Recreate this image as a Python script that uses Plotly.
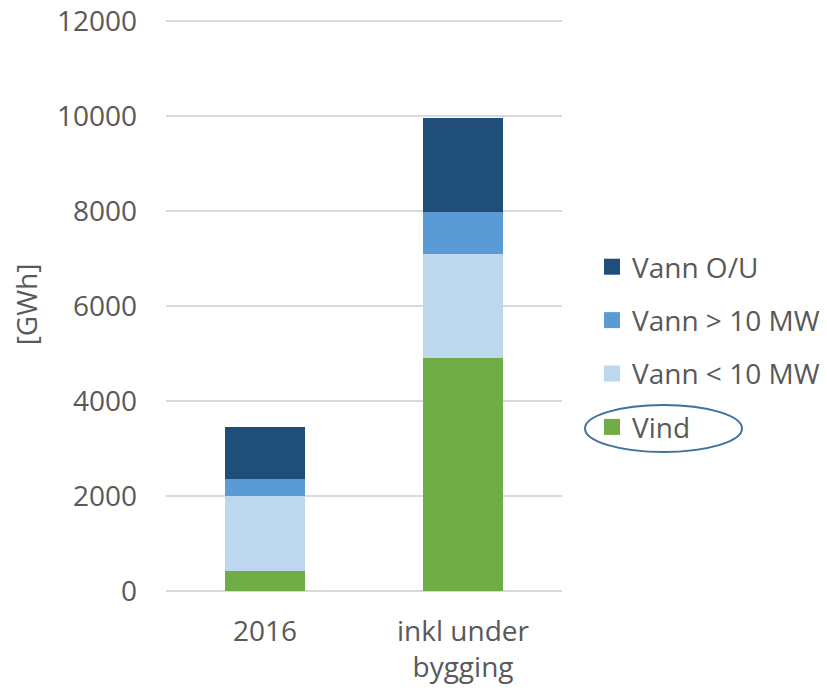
import plotly.graph_objects as go

categories = ["2016", "inkl under<br>bygging"]
series_names = ["Vind", "Vann < 10 MW", "Vann > 10 MW", "Vann O/U"]
vind = [420, 4900]
vann_lt10 = [1580, 2200]
vann_gt10 = [350, 870]
vann_ou = [1095, 1980]
colors = ["#70AD47", "#BDD7EE", "#5B9BD5", "#1F4E79"]
y_ticks = [0, 2000, 4000, 6000, 8000, 10000, 12000]

values = [vind, vann_lt10, vann_gt10, vann_ou]
font_color = "#595959"
FONT = "Open Sans"
FS = 28

fig = go.Figure()
for name, vals, col in zip(series_names, values, colors):
    fig.add_trace(go.Bar(x=categories, y=vals, name=name, marker_color=col,
                         marker_line_width=0, showlegend=False))

# legend entries (larger square swatches), top-to-bottom order
for i, (name, col) in enumerate(reversed(list(zip(series_names, colors)))):
    fig.add_trace(go.Scatter(x=[None], y=[None], mode="markers", name=name,
                             marker=dict(symbol="square", size=17, color=col),
                             legendgroup=name, legendrank=i + 1))

W, H = 827, 690
Y_MAX = 12060
plot_left, plot_right = 166, 562          # window pixels
plot_bottom = 591
ph = round(570 / 12000 * Y_MAX)
plot_top = plot_bottom - ph
L = plot_left
T = plot_top
R = W - plot_right
B = H - plot_bottom
pw = plot_right - plot_left

def px_x(px):
    return (px - plot_left) / pw

def px_y(py):
    return (plot_bottom - py) / ph

fig.add_shape(type="circle", xref="paper", yref="paper",
              x0=px_x(585), x1=px_x(742), y0=px_y(452), y1=px_y(405),
              line=dict(color="#41719C", width=2), layer="above")

fig.update_layout(
    width=W, height=H,
    margin=dict(l=L, r=R, t=T, b=B, autoexpand=False),
    paper_bgcolor="white", plot_bgcolor="white",
    barmode="stack", bargap=0.6,
    font=dict(family=FONT, size=FS, color=font_color),
    legend=dict(x=px_x(592), y=px_y(242), xanchor="left", yanchor="top",
                traceorder="grouped", tracegroupgap=14,
                bgcolor="rgba(0,0,0,0)",
                font=dict(family=FONT, size=FS, color=font_color),
                itemclick=False),
    xaxis=dict(showline=False, ticks="", showgrid=False, automargin=False,
               ticklabelstandoff=21,
               tickfont=dict(family=FONT, size=FS, color=font_color)),
    yaxis=dict(range=[0, Y_MAX], tickvals=y_ticks, tickformat="d",
               automargin=False, ticklabeloverflow="allow",
               showgrid=True, gridcolor="#D9D9D9", gridwidth=1.5,
               zeroline=True, zerolinecolor="#D9D9D9", zerolinewidth=1.5,
               showline=False, ticks="", ticklabelstandoff=28,
               tickfont=dict(family=FONT, size=FS, color=font_color),
               title=dict(text="[GWh]", standoff=11,
                          font=dict(family=FONT, size=FS, color=font_color))),
)

fig.write_html("out.html",
               config={"displayModeBar": False},
               post_script="document.body.style.margin='0';")
